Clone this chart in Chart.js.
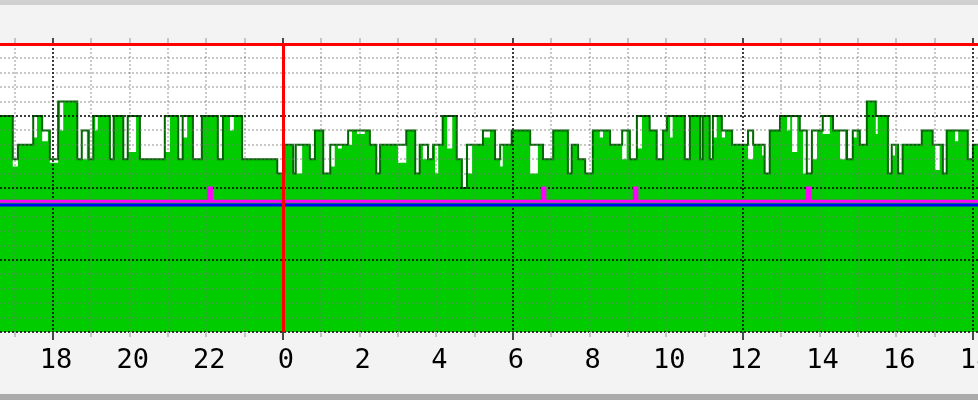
<!DOCTYPE html>
<html>
<head>
<meta charset="utf-8">
<script src="https://cdn.jsdelivr.net/npm/chart.js@4.4.1/dist/chart.umd.min.js"></script>
<style>
  html, body { margin: 0; padding: 0; background: #f3f3f3; }
  #wrap { position: relative; width: 978px; height: 400px; }
</style>
</head>
<body>
<div id="wrap"><canvas id="graph" width="978" height="400"></canvas></div>
<script>
// time is minutes after 18:00 on the first day
const viewStart = -83;
const viewEnd = 1448;

// step start times, max (outline) and average (area) per step
const stepStart = [-83,-63,-55,-31,-25,-17,-8,-5,8,11,16,38,45,53,56,63,66,70,89,95,110,117,130,136,175,183,196,203,210,219,233,258,266,277,283,296,351,362,376,380,390,402,410,423,434,441,446,452,462,468,476,488,496,506,512,540,553,567,574,579,587,595,598,603,610,617,625,632,640,648,656,673,684,692,700,704,718,747,759,767,783,806,812,822,833,845,856,861,872,891,898,903,914,922,934,945,955,961,966,970,989,997,1013,1017,1028,1033,1039,1047,1052,1063,1088,1096,1110,1114,1122,1138,1149,1154,1157,1165,1169,1174,1180,1188,1196,1205,1216,1221,1232,1240,1243,1252,1258,1263,1274,1288,1291,1307,1313,1318,1323,1330,1360,1377,1381,1388,1393,1399,1412,1417,1432,1440];
const peakValues = [3.0,2.4,2.6,3.0,3.0,2.8,2.8,2.4,3.2,3.2,3.2,2.4,2.8,2.8,2.4,3.0,3.0,3.0,2.4,3.0,2.4,3.0,3.0,2.4,3.0,3.0,2.4,3.0,3.0,2.4,3.0,2.4,3.0,3.0,3.0,2.4,2.2,2.6,2.2,2.6,2.6,2.4,2.8,2.2,2.6,2.6,2.6,2.6,2.8,2.8,2.8,2.8,2.6,2.2,2.6,2.6,2.8,2.2,2.6,2.6,2.4,2.6,2.6,2.6,3.0,3.0,3.0,2.4,2.0,2.6,2.6,2.8,2.8,2.4,2.6,2.6,2.8,2.6,2.6,2.4,2.8,2.2,2.6,2.4,2.2,2.8,2.8,2.8,2.6,2.8,2.8,2.4,3.0,3.0,2.8,2.4,2.8,3.0,3.0,3.0,2.4,3.0,2.4,3.0,2.4,3.0,3.0,2.8,2.8,2.6,2.8,2.6,2.6,2.2,2.8,3.0,3.0,3.0,3.0,3.0,2.8,2.8,2.2,2.8,2.8,3.0,3.0,2.8,2.8,2.8,2.4,2.8,2.8,2.6,3.2,3.0,3.0,2.2,2.6,2.6,2.2,2.6,2.8,2.6,2.6,2.6,2.2,2.8,2.8,2.8,2.4,2.6];
const averageValues = [3.0,2.3,2.6,2.7,3.0,2.65,2.8,2.35,3.2,2.8,3.2,2.4,2.4,2.8,2.4,3.0,2.8,3.0,2.4,3.0,2.4,2.5,3.0,2.4,2.5,3.0,2.4,2.7,3.0,2.4,3.0,2.4,3.0,2.8,3.0,2.4,2.2,2.6,2.2,2.2,2.6,2.4,2.8,2.2,2.3,2.6,2.55,2.6,2.6,2.8,2.75,2.8,2.6,2.2,2.6,2.35,2.8,2.2,2.6,2.4,2.4,2.6,2.2,2.6,3.0,2.55,3.0,2.4,2.0,2.2,2.6,2.7,2.8,2.4,2.3,2.6,2.8,2.2,2.6,2.4,2.8,2.2,2.6,2.4,2.2,2.8,2.7,2.8,2.6,2.4,2.8,2.4,2.55,3.0,2.8,2.4,2.8,3.0,2.7,3.0,2.4,3.0,2.4,3.0,2.4,2.7,3.0,2.7,2.8,2.6,2.4,2.6,2.45,2.2,2.8,3.0,2.8,3.0,2.5,3.0,2.8,2.2,2.2,2.4,2.8,2.75,3.0,2.8,2.4,2.8,2.4,2.7,2.8,2.6,3.2,2.75,3.0,2.2,2.45,2.6,2.2,2.6,2.8,2.6,2.25,2.6,2.2,2.8,2.65,2.8,2.4,2.6];

// magenta line with short spikes, flat blue line
const magentaStart = [-83,244,248,766,770,910,914,1181,1185];
const magentaValues = [1.815,2.0,1.815,2.0,1.815,2.0,1.815,2.0,1.815];
const blueValue = 1.765;

// x labels every two hours, red limit line and midnight marker
const tickMinutes = [0,120,240,360,480,600,720,840,960,1080,1200,1320,1440];
const tickLabels = ['18','20','22','0','2','4','6','8','10','12','14','16','18'];
const limitValue = 4;
const midnightMinute = 360;

function stepPoints(starts, values) {
  const pts = starts.map((m, i) => ({ x: m, y: values[i] }));
  pts.push({ x: viewEnd, y: values[values.length - 1] });
  return pts;
}

function range(from, to, step) {
  const out = [];
  for (let v = from; v <= to + 1e-9; v += step) out.push(Math.round(v * 100) / 100);
  return out;
}

const minorX = range(-60, 1440, 60);
const majorX = range(0, 1440, 360);
const minorY = range(0, 4, 0.2);
const majorY = range(0, 4, 1);

const rrdBack = {
  id: 'rrdBack',
  beforeDraw(chart) {
    const { ctx, chartArea: a } = chart;
    ctx.save();
    ctx.fillStyle = '#f3f3f3';
    ctx.fillRect(0, 0, chart.width, chart.height);
    ctx.fillStyle = '#d0d0d0';
    ctx.fillRect(0, 0, chart.width, 5);
    ctx.fillStyle = '#ababab';
    ctx.fillRect(0, 394, chart.width, 6);
    ctx.fillStyle = '#ffffff';
    ctx.fillRect(a.left, a.top - 1, a.right - a.left, a.bottom - a.top + 1);
    ctx.restore();
  }
};

function drawGrid(chart) {
  const { ctx, chartArea: a, scales: { x, y } } = chart;
  ctx.save();
  ctx.lineWidth = 2;
  // minor grid
  ctx.setLineDash([2, 2]);
  ctx.strokeStyle = 'rgba(120,120,120,0.4)';
  minorY.forEach(v => {
    const py = Math.round(y.getPixelForValue(v));
    ctx.beginPath(); ctx.moveTo(a.left, py); ctx.lineTo(a.right, py); ctx.stroke();
  });
  minorX.forEach(v => {
    const px = Math.round(x.getPixelForValue(v));
    ctx.beginPath(); ctx.moveTo(px, a.top); ctx.lineTo(px, a.bottom); ctx.stroke();
  });
  // major grid
  ctx.strokeStyle = 'rgba(0,0,0,0.7)';
  majorY.forEach(v => {
    const py = Math.round(y.getPixelForValue(v));
    ctx.beginPath(); ctx.moveTo(a.left, py); ctx.lineTo(a.right, py); ctx.stroke();
  });
  majorX.forEach(v => {
    const px = Math.round(x.getPixelForValue(v));
    ctx.beginPath(); ctx.moveTo(px, a.top); ctx.lineTo(px, a.bottom); ctx.stroke();
  });
  // tick marks outside the plot
  ctx.setLineDash([]);
  minorX.forEach(v => {
    const px = Math.round(x.getPixelForValue(v));
    const major = majorX.includes(v);
    ctx.strokeStyle = major ? '#4a4a4a' : '#c4c4c4';
    ctx.beginPath(); ctx.moveTo(px, a.top - 6); ctx.lineTo(px, a.top); ctx.stroke();
    ctx.beginPath(); ctx.moveTo(px, a.bottom); ctx.lineTo(px, a.bottom + (major ? 8 : 5)); ctx.stroke();
  });
  ctx.restore();
}

const rrdGrid = {
  id: 'rrdGrid',
  afterDatasetDraw(chart, args) {
    if (args.index === 1) drawGrid(chart);
  },
  afterDatasetsDraw(chart) {
    const { ctx, chartArea: a, scales: { x, y } } = chart;
    ctx.save();
    ctx.strokeStyle = '#ff0000';
    ctx.lineWidth = 3;
    const py = Math.round(y.getPixelForValue(limitValue)) + 0.5;
    ctx.beginPath(); ctx.moveTo(a.left, py); ctx.lineTo(a.right, py); ctx.stroke();
    const px = Math.round(x.getPixelForValue(midnightMinute)) + 0.5;
    ctx.beginPath(); ctx.moveTo(px, a.top); ctx.lineTo(px, a.bottom); ctx.stroke();
    ctx.restore();
  }
};

new Chart(document.getElementById('graph'), {
  type: 'line',
  data: {
    datasets: [
      {
        label: 'average',
        data: stepPoints(stepStart, averageValues),
        stepped: 'before',
        fill: 'origin',
        backgroundColor: '#00cc00',
        borderColor: 'rgba(0,0,0,0)',
        borderWidth: 1,
        pointRadius: 0,
        order: 4
      },
      {
        label: 'max',
        data: stepPoints(stepStart, peakValues),
        stepped: 'before',
        fill: false,
        borderColor: '#006600',
        borderWidth: 2,
        pointRadius: 0,
        order: 3
      },
      {
        label: 'blue',
        data: [{ x: viewStart, y: blueValue }, { x: viewEnd, y: blueValue }],
        fill: false,
        borderColor: '#0000ff',
        borderWidth: 3,
        pointRadius: 0,
        order: 2
      },
      {
        label: 'magenta',
        data: stepPoints(magentaStart, magentaValues),
        stepped: 'before',
        fill: false,
        borderColor: '#ff00ff',
        borderWidth: 3,
        pointRadius: 0,
        order: 1
      }
    ]
  },
  options: {
    responsive: false,
    animation: false,
    events: [],
    layout: { padding: { top: 44, left: 0, right: 0, bottom: 6 } },
    plugins: { legend: { display: false }, tooltip: { enabled: false } },
    scales: {
      x: {
        type: 'linear',
        min: viewStart,
        max: viewEnd,
        grid: { display: false },
        border: { display: false },
        afterBuildTicks: s => { s.ticks = tickMinutes.map(v => ({ value: v })); },
        afterFit: s => { s.height = 62; s.paddingLeft = 0; s.paddingRight = 0; },
        ticks: {
          autoSkip: false,
          maxRotation: 0,
          padding: 5,
          labelOffset: 3,
          color: '#000000',
          font: { family: 'DejaVu Sans Mono', size: 27 },
          callback: (v, i) => tickLabels[i]
        }
      },
      y: {
        display: false,
        min: 0,
        max: 4
      }
    }
  },
  plugins: [rrdBack, rrdGrid]
});
</script>
</body>
</html>
